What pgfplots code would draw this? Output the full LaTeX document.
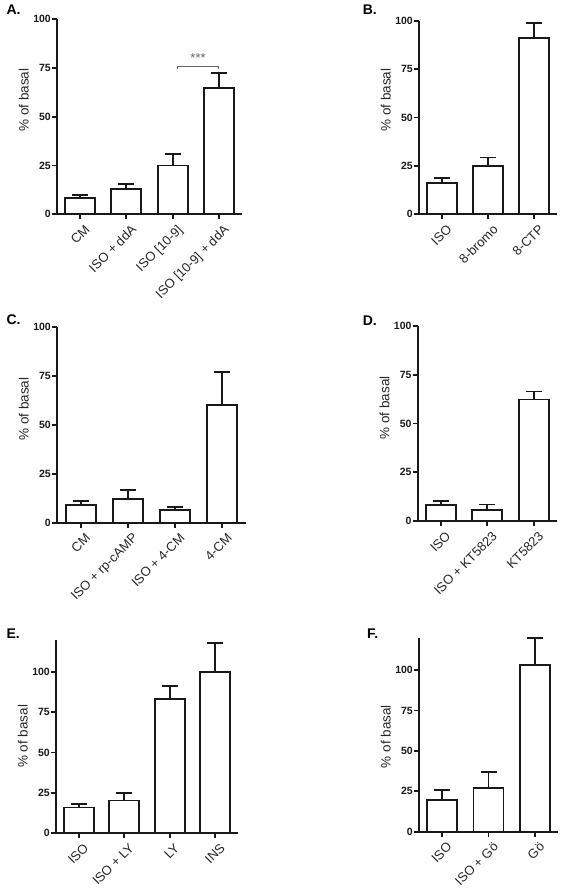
\documentclass[border=0pt]{standalone}
\usepackage{fontspec}
\setmainfont{Liberation Sans}
\usepackage{pgfplots}
\pgfplotsset{compat=1.18}
\usepackage{pgfplotstable}

\pgfplotstableread{
x y e
0 8.5 1.2
1 13.0 2.5
2 25.0 5.7
3 64.5 8.0
}\dataA
\pgfplotstableread{
x y e
0 16.2 2.6
1 25.1 4.2
2 90.9 7.7
}\dataB
\pgfplotstableread{
x y e
0 9.0 2.1
1 11.9 4.8
2 6.5 1.7
3 59.9 17.1
}\dataC
\pgfplotstableread{
x y e
0 8.0 2.1
1 5.8 2.7
2 62.3 4.1
}\dataD
\pgfplotstableread{
x y e
0 15.8 2.1
1 20.2 4.5
2 83.4 7.7
3 100.0 17.9
}\dataE
\pgfplotstableread{
x y e
0 19.4 6.4
1 27.0 9.9
2 103.3 16.3
}\dataF

\pgfplotsset{
 panel/.style={
  scale only axis,
  anchor=south west,
  axis lines=left,
  axis line style={-, line width=1.8pt, black!90},
  enlargelimits=false,
  xmin=-0.5, ymin=0, ymax=100,
  ytick={0,25,50,75,100},
  xtick=data,
  tick align=outside,
  major tick length=5pt,
  tick style={line width=1.8pt, black!90},
  /pgf/number format/assume math mode=true,
  yticklabel style={font=\fontsize{10.5}{12}\selectfont\bfseries, inner sep=1pt, text=black!90},
  xticklabel style={font=\fontsize{13}{15}\selectfont, xshift=4pt, yshift=-3pt, rotate=45, anchor=north east, inner sep=1pt, text=black!85},
  ylabel={\% of basal},
  ylabel style={font=\fontsize{13.5}{15}\selectfont, text=black!85},
  clip=false,
 },
 bars/.style={ybar, bar width=30pt, draw=black!90, fill=white, line width=1.8pt,
   error bars/.cd, y dir=plus, y explicit,
   error bar style={line width=1.8pt, black!90},
   error mark options={rotate=90, mark size=8pt, line width=1.8pt, black!90}},
}

\begin{document}
\begin{tikzpicture}[x=1pt,y=1pt]
\path[use as bounding box] (0,0) rectangle (562,893);

% A
\begin{axis}[panel, at={(57pt,678.7pt)}, width=185pt, height=195.3pt,
  xmax=3.5, xticklabels={CM, ISO + ddA, {ISO [10-9]}, {ISO [10-9] + ddA}},
  ylabel style={at={(ticklabel cs:0.585)}}]
\addplot[bars] table[x=x,y=y,y error=e]{\dataA};
\addplot[black!60, line width=1.1pt] coordinates {(2.1,74.6) (2.1,75.7) (3,75.7) (3,74.6)};
\node[font=\fontsize{13}{15}\selectfont, text=black!60] at (axis cs:2.55,80) {***};
\end{axis}

% B
\begin{axis}[panel, at={(419pt,678.7pt)}, width=138pt, height=193.6pt,
  xmax=2.5, xticklabels={ISO, 8-bromo, 8-CTP},
  ylabel style={at={(ticklabel cs:0.59)}}]
\addplot[bars] table[x=x,y=y,y error=e]{\dataB};
\end{axis}

% C
\begin{axis}[panel, at={(57pt,370.3pt)}, width=189pt, height=196pt,
  xmax=3.5, xticklabels={CM, ISO + rp-cAMP, ISO + 4-CM, 4-CM},
  ylabel style={at={(ticklabel cs:0.58)}}]
\addplot[bars] table[x=x,y=y,y error=e]{\dataC};
\end{axis}

% D
\begin{axis}[panel, at={(417.7pt,372pt)}, width=139.3pt, height=195pt,
  xmax=2.5, xticklabels={ISO, ISO + KT5823, KT5823},
  ylabel style={at={(ticklabel cs:0.58)}}]
\addplot[bars] table[x=x,y=y,y error=e]{\dataD};
\end{axis}

% E
\begin{axis}[panel, at={(56pt,60pt)}, width=182pt, height=193.3pt,
  xmax=3.5, ymax=120, xticklabels={ISO, ISO + LY, LY, INS},
  ylabel style={at={(ticklabel cs:0.5)}}]
\addplot[bars] table[x=x,y=y,y error=e]{\dataE};
\end{axis}

% F
\begin{axis}[panel, at={(419pt,61.3pt)}, width=139pt, height=194pt,
  xmax=2.5, ymax=120, xticklabels={ISO, ISO + Gö, Gö},
  ylabel style={at={(ticklabel cs:0.49)}}]
\addplot[bars] table[x=x,y=y,y error=e]{\dataF};
\end{axis}

\node[anchor=base west, font=\fontsize{14}{16}\selectfont\bfseries] at (3,878.7) {A.};
\node[anchor=base west, font=\fontsize{14}{16}\selectfont\bfseries] at (359.3,878.7) {B.};
\node[anchor=base west, font=\fontsize{14}{16}\selectfont\bfseries] at (3,568) {C.};
\node[anchor=base west, font=\fontsize{14}{16}\selectfont\bfseries] at (359.3,567) {D.};
\node[anchor=base west, font=\fontsize{14}{16}\selectfont\bfseries] at (3,254.3) {E.};
\node[anchor=base west, font=\fontsize{14}{16}\selectfont\bfseries] at (363.7,254.3) {F.};
\end{tikzpicture}
\end{document}
